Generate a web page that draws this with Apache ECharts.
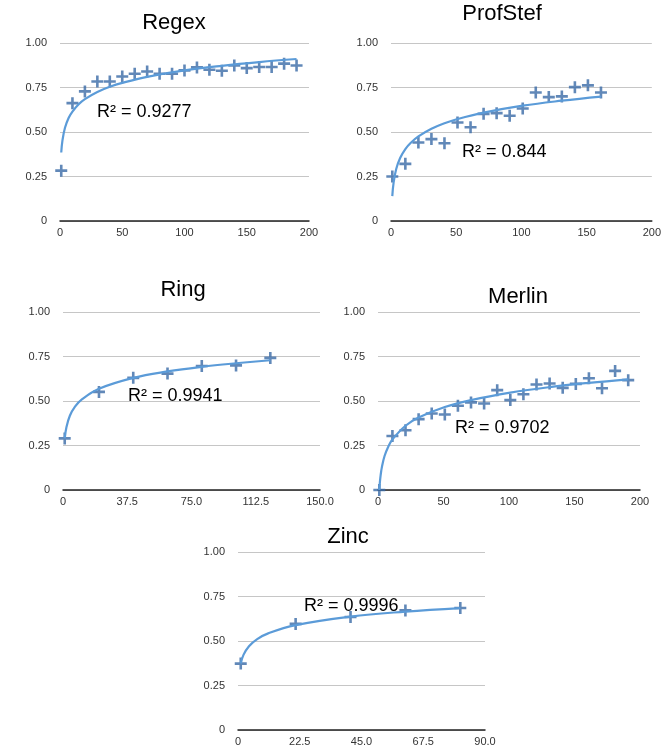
<!DOCTYPE html>
<html><head><meta charset="utf-8">
<script src="https://cdn.jsdelivr.net/npm/echarts@6/dist/echarts.min.js"></script>
<style>html,body{margin:0;padding:0;background:#fff}#c{width:664px;height:751px}</style>
</head><body><div id="c"></div><script>
// ---- data ----
const yTickLabels = ["0", "0.25", "0.50", "0.75", "1.00"];
const xTicks200 = ["0", "50", "100", "150", "200"];
const xTicksRing = ["0", "37.5", "75.0", "112.5", "150.0"];
const xTicksZinc = ["0", "22.5", "45.0", "67.5", "90.0"];

const regexX = [1,10,20,30,40,50,60,70,80,90,100,110,120,130,140,150,160,170,180,190];
const regexY = [0.283,0.662,0.728,0.784,0.784,0.812,0.827,0.840,0.827,0.827,0.846,0.863,0.850,0.844,0.874,0.859,0.865,0.865,0.884,0.874];
const regexTrendX = [1,2,4,7,10,15,20,30,40,50,70,100,130,160,190];
const regexTrendY = [0.385,0.454,0.524,0.580,0.615,0.656,0.685,0.725,0.754,0.776,0.810,0.846,0.872,0.893,0.910];

const profX = [1,11,21,31,41,51,61,71,81,91,101,111,121,131,141,151,161];
const profY = [0.25,0.321,0.441,0.46,0.437,0.553,0.527,0.602,0.606,0.591,0.632,0.722,0.696,0.70,0.752,0.762,0.722];
const profTrendX = [1,2,4,7,11,15,21,31,41,51,71,101,131,161];
const profTrendY = [0.14,0.216,0.292,0.354,0.404,0.438,0.475,0.518,0.549,0.573,0.609,0.648,0.676,0.699];

const ringX = [1,21,41,61,81,101,121];
const ringY = [0.29,0.551,0.63,0.654,0.697,0.70,0.742];
const ringTrendX = [1,2,4,7,11,21,41,61,81,101,121];
const ringTrendY = [0.29,0.353,0.417,0.468,0.509,0.569,0.630,0.666,0.692,0.712,0.729];

const merlinX = [1,11,21,31,41,51,61,71,81,91,101,111,121,131,141,151,161,171,181,191];
const merlinY = [0,0.303,0.336,0.398,0.43,0.424,0.473,0.492,0.486,0.561,0.505,0.538,0.593,0.598,0.574,0.596,0.628,0.572,0.669,0.617];
const merlinTrendX = [1,1.5,2,3,5,8,11,21,31,51,71,101,131,161,191];
const merlinTrendY = [0,0.048,0.082,0.130,0.191,0.246,0.284,0.361,0.407,0.466,0.505,0.547,0.578,0.602,0.622];

const zincX = [1,21,41,61,81];
const zincY = [0.373,0.596,0.635,0.672,0.685];
const zincTrendX = [1,2,4,7,11,21,41,61,81];
const zincTrendY = [0.373,0.422,0.471,0.511,0.543,0.589,0.637,0.665,0.685];

const panels = [
  {name:"Regex", x:regexX, y:regexY, tx:regexTrendX, ty:regexTrendY, r2:"R² = 0.9277", xmax:200, xint:50, xl:xTicks200,
   grid:{left:60, top:43, width:249, height:178}, title:[174,22], r2pos:[97,113]},
  {name:"ProfStef", x:profX, y:profY, tx:profTrendX, ty:profTrendY, r2:"R² = 0.844", xmax:200, xint:50, xl:xTicks200,
   grid:{left:391, top:43, width:262, height:178}, title:[502,13], r2pos:[462,153]},
  {name:"Ring", x:ringX, y:ringY, tx:ringTrendX, ty:ringTrendY, r2:"R² = 0.9941", xmax:150, xint:37.5, xl:xTicksRing,
   grid:{left:63, top:312, width:257, height:178}, title:[183,289], r2pos:[128,397]},
  {name:"Merlin", x:merlinX, y:merlinY, tx:merlinTrendX, ty:merlinTrendY, r2:"R² = 0.9702", xmax:200, xint:50, xl:xTicks200,
   grid:{left:378, top:312, width:262, height:178}, title:[518,296], r2pos:[455,429]},
  {name:"Zinc", x:zincX, y:zincY, tx:zincTrendX, ty:zincTrendY, r2:"R² = 0.9996", xmax:90, xint:22.5, xl:xTicksZinc,
   grid:{left:238, top:552, width:247, height:178}, title:[348,536], r2pos:[304,607]}
];

const FONT = "'Liberation Sans', Arial, Helvetica, sans-serif";
const plusPath = 'path://M4.7,0h2.6v4.7h4.7v2.6h-4.7v4.7h-2.6v-4.7h-4.7v-2.6h4.7z';
const option = {
  animation:false,
  backgroundColor:'#fff',
  title:[], grid:[], xAxis:[], yAxis:[], series:[], graphic:[]
};
panels.forEach((p,i)=>{
  option.title.push({text:p.name, left:p.title[0], top:p.title[1]-10, textAlign:'center', padding:0,
    textStyle:{fontFamily:FONT, fontSize:22, fontWeight:'normal', color:'#000'}});
  option.grid.push(Object.assign({containLabel:false}, p.grid));
  option.xAxis.push({type:'value', gridIndex:i, min:0, max:p.xmax, interval:p.xint,
    axisLine:{show:true, lineStyle:{color:'#222', width:1.5}}, axisTick:{show:false},
    splitLine:{show:false},
    axisLabel:{fontFamily:FONT, fontSize:11, color:'#333', margin:6,
      formatter:(v)=>p.xl[Math.round(v/p.xint)]}});
  option.yAxis.push({type:'value', gridIndex:i, min:0, max:1, interval:0.25,
    axisLine:{show:false}, axisTick:{show:false},
    splitLine:{show:true, lineStyle:{color:'#c6c6c6', width:1}},
    axisLabel:{fontFamily:FONT, fontSize:11, color:'#333', margin:13,
      formatter:(v)=>yTickLabels[Math.round(v/0.25)]}});
  option.series.push({type:'scatter', xAxisIndex:i, yAxisIndex:i, symbol:plusPath, symbolSize:12,
    itemStyle:{color:'#3a6aa6'}, data:p.x.map((x,k)=>[x,p.y[k]]), z:3});
  option.series.push({type:'line', xAxisIndex:i, yAxisIndex:i, smooth:0.4, showSymbol:false, symbol:'none',
    lineStyle:{color:'#5b9bd8', width:2.2}, data:p.tx.map((x,k)=>[x,p.ty[k]]), z:4});
  option.graphic.push({type:'text', left:p.r2pos[0], top:p.r2pos[1]-10, z:10,
    style:{text:p.r2, font:'18px '+FONT, fill:'#000'}});
});
const chart = echarts.init(document.getElementById('c'), null, {renderer:'canvas'});
chart.setOption(option);
</script></body></html>
